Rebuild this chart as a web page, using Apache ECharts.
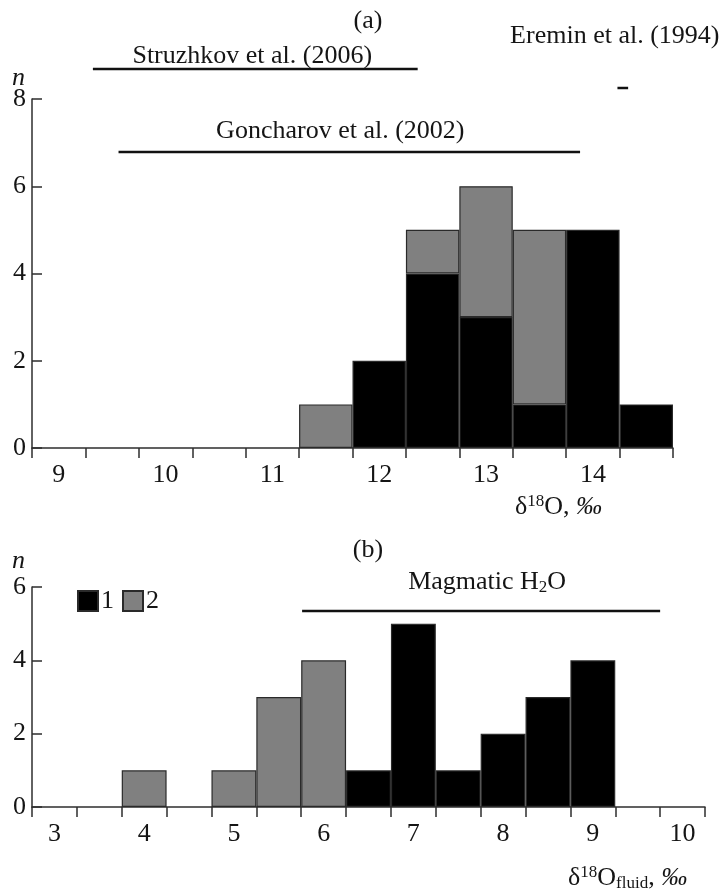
<!DOCTYPE html>
<html>
<head>
<meta charset="utf-8">
<script src="https://cdn.jsdelivr.net/npm/echarts@6/dist/echarts.min.js"></script>
<style>
  html, body { margin: 0; padding: 0; background: #fff; }
  #chart { width: 724px; height: 896px; }
</style>
</head>
<body>
<div id="chart"></div>
<script>
// ---- (a) δ18O of quartz: 0.5‰ bins, each category is the bin centre ----
const binsA = ['9', '9.5', '10', '10.5', '11', '11.5', '12', '12.5', '13', '13.5', '14', '14.5'];
const countsA1 = [0, 0, 0, 0, 0, 0, 2, 4, 3, 1, 5, 1];
const countsA2 = [0, 0, 0, 0, 0, 1, 0, 1, 3, 4, 0, 0];
const yMaxA = 8;

// published δ18O ranges shown above panel (a)
const refNames = ['Struzhkov et al. (2006)', 'Goncharov et al. (2002)', 'Eremin et al. (1994)'];
const refFrom = [9.32, 9.56, 14.23];
const refTo = [12.36, 13.88, 14.33];

// ---- (b) δ18O of fluid ----
const binsB = ['3', '3.5', '4', '4.5', '5', '5.5', '6', '6.5', '7', '7.5', '8', '8.5', '9', '9.5', '10'];
const countsB1 = [0, 0, 0, 0, 0, 0, 0, 1, 5, 1, 2, 3, 4, 0, 0];
const countsB2 = [0, 0, 1, 0, 1, 3, 4, 0, 0, 0, 0, 0, 0, 0, 0];
const yMaxB = 6;

// magmatic water range
const magmaticFrom = [5.76];
const magmaticTo = [9.75];

const yStep = 2;
const binHalf = 0.25;

// ---- styling ----
const FONT = "'Liberation Serif', 'Times New Roman', serif";
const INK = '#151515';
const AXIS = '#2e2e2e';
const BLACK = '#000';
const GREY = '#808080';

// per-row placement of the range annotations (pixels)
const refLayout = [
  { lineDy: -30, textDx: -3, textDy: -13 },
  { lineDy: 53, textDx: -9, textDy: -21 },
  { lineDy: -11, textDx: -8, textDy: -52 }
];
const magLayout = { lineDy: 24, textDx: 6, textDy: -29 };

const noZero = arr => arr.map(v => (v === 0 ? '-' : v));

function catAxis(grid, data) {
  return {
    gridIndex: grid, type: 'category', data: data, boundaryGap: true,
    axisLine: { show: true, lineStyle: { color: AXIS, width: 1.5 } },
    axisTick: { show: true, interval: 0, length: 10, lineStyle: { color: AXIS, width: 1.5 } },
    axisLabel: { interval: 1, margin: 14, color: INK, fontSize: 26, fontFamily: FONT },
    splitLine: { show: false }
  };
}
function hiddenValueAxis(grid, bins) {
  return {
    gridIndex: grid, type: 'value', show: false,
    min: parseFloat(bins[0]) - binHalf,
    max: parseFloat(bins[bins.length - 1]) + binHalf
  };
}
function countAxis(grid, max, gap) {
  return {
    gridIndex: grid, type: 'value', min: 0, max: max, interval: yStep,
    name: 'n', nameLocation: 'end', nameGap: gap, nameMoveOverlap: false,
    nameTextStyle: {
      fontStyle: 'italic', fontSize: 26, fontFamily: FONT, color: INK,
      align: 'right', verticalAlign: 'middle', padding: [0, 7, 0, 0]
    },
    axisLine: { show: true, lineStyle: { color: AXIS, width: 1.5 } },
    axisTick: { show: true, inside: true, length: 10, lineStyle: { color: AXIS, width: 1.5 } },
    axisLabel: { margin: 6, color: INK, fontSize: 26, fontFamily: FONT },
    splitLine: { show: false }
  };
}
function barSeries(name, xi, yi, stack, data, color) {
  return {
    type: 'bar', name: name, xAxisIndex: xi, yAxisIndex: yi, stack: stack,
    data: noZero(data), barWidth: '100%', barCategoryGap: '0%',
    itemStyle: { color: color, borderColor: '#2a2a2a', borderWidth: 1.2 },
    emphasis: { disabled: true }
  };
}

const chart = echarts.init(document.getElementById('chart'), null, { renderer: 'canvas' });

const option = {
  animation: false,
  backgroundColor: '#fff',
  grid: [
    { left: 32, top: 99, width: 641, height: 349 },
    { left: 32, top: 587, width: 673, height: 220 }
  ],
  xAxis: [
    catAxis(0, binsA),
    hiddenValueAxis(0, binsA),
    catAxis(1, binsB),
    hiddenValueAxis(1, binsB)
  ],
  yAxis: [
    countAxis(0, yMaxA, 21),
    countAxis(1, yMaxB, 26)
  ],
  legend: {
    data: ['1', '2'], left: 77, top: 588, padding: 0, icon: 'rect',
    itemWidth: 20, itemHeight: 20, itemGap: 8,
    textStyle: { color: INK, fontSize: 26, fontFamily: FONT, padding: [0, 0, 0, -2] },
    selectedMode: false
  },
  series: [
    barSeries('1', 0, 0, 'a', countsA1, BLACK),
    barSeries('2', 0, 0, 'a', countsA2, GREY),
    barSeries('1', 2, 1, 'b', countsB1, BLACK),
    barSeries('2', 2, 1, 'b', countsB2, GREY),
    {
      type: 'custom', xAxisIndex: 1, yAxisIndex: 0, clip: false, silent: true,
      data: refFrom.map((f, i) => [f, refTo[i]]),
      renderItem: function (params, api) {
        const i = params.dataIndex;
        const L = refLayout[i];
        const a = api.coord([api.value(0), yMaxA]);
        const b = api.coord([api.value(1), yMaxA]);
        const y = a[1] + L.lineDy;
        return {
          type: 'group',
          children: [
            { type: 'line', shape: { x1: a[0], y1: y, x2: b[0], y2: y },
              style: { stroke: '#111', lineWidth: 2.5 } },
            { type: 'text', x: (a[0] + b[0]) / 2 + L.textDx, y: y + L.textDy,
              style: { text: refNames[i], fill: INK, font: '26px ' + FONT,
                       align: 'center', verticalAlign: 'middle' } }
          ]
        };
      }
    },
    {
      type: 'custom', xAxisIndex: 3, yAxisIndex: 1, clip: false, silent: true,
      data: magmaticFrom.map((f, i) => [f, magmaticTo[i]]),
      renderItem: function (params, api) {
        const a = api.coord([api.value(0), yMaxB]);
        const b = api.coord([api.value(1), yMaxB]);
        const y = a[1] + magLayout.lineDy;
        return {
          type: 'group',
          children: [
            { type: 'line', shape: { x1: a[0], y1: y, x2: b[0], y2: y },
              style: { stroke: '#111', lineWidth: 2.5 } },
            { type: 'text', x: (a[0] + b[0]) / 2 + magLayout.textDx, y: y + magLayout.textDy,
              style: {
                text: '{m|Magmatic H}{s|2}{m|O}', align: 'center', verticalAlign: 'middle',
                rich: {
                  m: { fontSize: 26, fontFamily: FONT, fill: INK, lineHeight: 30 },
                  s: { fontSize: 17, fontFamily: FONT, fill: INK, lineHeight: 30, padding: [12, 0, 0, 0] }
                }
              } }
          ]
        };
      }
    }
  ],
  graphic: [
    { type: 'text', x: 368, y: 21,
      style: { text: '(a)', fill: INK, font: '26px ' + FONT, align: 'center', verticalAlign: 'middle' } },
    { type: 'text', x: 368, y: 550,
      style: { text: '(b)', fill: INK, font: '26px ' + FONT, align: 'center', verticalAlign: 'middle' } },
    { type: 'text', x: 515, y: 507,
      style: {
        text: '{m|δ}{u|18}{m|O, }{i|‰}', align: 'left', verticalAlign: 'middle',
        rich: {
          m: { fontSize: 26, fontFamily: FONT, fill: INK, lineHeight: 30 },
          u: { fontSize: 17, fontFamily: FONT, fill: INK, lineHeight: 30, padding: [0, 0, 10, 0] },
          i: { fontSize: 26, fontFamily: FONT, fill: INK, fontStyle: 'italic', lineHeight: 30 }
        }
      } },
    { type: 'text', x: 568, y: 878,
      style: {
        text: '{m|δ}{u|18}{m|O}{d|fluid}{m|, }{i|‰}', align: 'left', verticalAlign: 'middle',
        rich: {
          m: { fontSize: 26, fontFamily: FONT, fill: INK, lineHeight: 30 },
          u: { fontSize: 17, fontFamily: FONT, fill: INK, lineHeight: 30, padding: [0, 0, 10, 0] },
          d: { fontSize: 17, fontFamily: FONT, fill: INK, lineHeight: 30, padding: [12, 0, 0, 0] },
          i: { fontSize: 26, fontFamily: FONT, fill: INK, fontStyle: 'italic', lineHeight: 30 }
        }
      } }
  ]
};

chart.setOption(option);
</script>
</body>
</html>
